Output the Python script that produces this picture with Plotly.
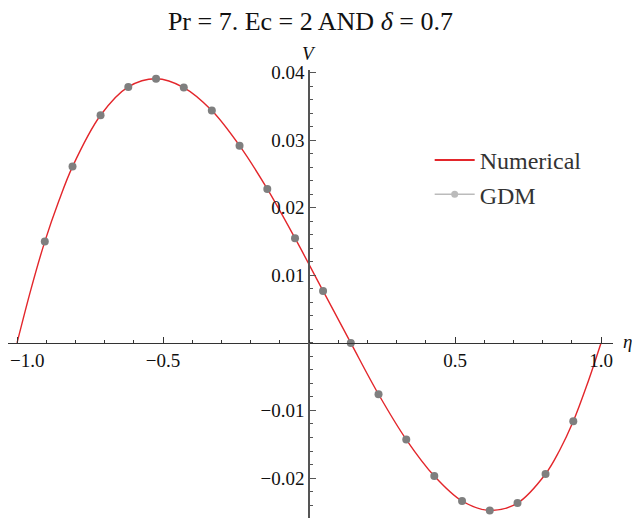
import plotly.graph_objects as go

# ---- data ----
eta_gdm = [-0.905, -0.810, -0.714, -0.619, -0.524, -0.429, -0.333, -0.238, -0.143, -0.048,
           0.048, 0.143, 0.238, 0.333, 0.429, 0.524, 0.619, 0.714, 0.810, 0.905]
v_gdm = [0.0150, 0.0261, 0.0337, 0.0379, 0.0391, 0.0378, 0.0344, 0.0292, 0.0228, 0.0155,
         0.0077, 0.0000, -0.0076, -0.0143, -0.0197, -0.0234, -0.0248, -0.0237, -0.0194, -0.0116]

eta_num = [-1.0, -0.952, -0.905, -0.857, -0.810, -0.714, -0.619, -0.524, -0.429, -0.333, -0.238,
           -0.143, -0.048, 0.048, 0.143, 0.238, 0.333, 0.429, 0.524, 0.619, 0.714, 0.810,
           0.857, 0.905, 0.952, 1.0]
v_num = [0.0, 0.0080, 0.0150, 0.0210, 0.0261, 0.0337, 0.0379, 0.0391, 0.0378, 0.0344, 0.0292,
         0.0228, 0.0155, 0.0077, 0.0000, -0.0076, -0.0143, -0.0197, -0.0234, -0.0248, -0.0237,
         -0.0194, -0.0160, -0.0116, -0.0062, 0.0]

x_ticks = [-1.0, -0.5, 0.5, 1.0]
x_ticktext = ["", "\u22120.5", "0.5", "1.0"]
x_edge_label = "\u22121.0"
y_ticks = [-0.02, -0.01, 0.01, 0.02, 0.03, 0.04]
y_ticktext = ["\u22120.02", "\u22120.01", "0.01", "0.02", "0.03", "0.04"]

title_text = "Pr = 7. Ec = 2 AND <i>\u03b4</i> = 0.7"

# ---- figure ----
xr = [-1.031, 1.041]
yr = [-0.0271, 0.0404]
FONT = "Liberation Serif"
AX = "#555555"

fig = go.Figure()
fig.add_trace(go.Scatter(x=eta_num, y=v_num, mode="lines", line=dict(color="#E3262B", width=1.4, shape="spline"),
                         showlegend=False, hoverinfo="skip"))
fig.add_trace(go.Scatter(x=eta_gdm, y=v_gdm, mode="markers", marker=dict(color="#7F7F7F", size=8),
                         showlegend=False))
# legend entries
fig.add_trace(go.Scatter(x=[None], y=[None], mode="lines", line=dict(color="#E3262B", width=2), name="Numerical"))
fig.add_trace(go.Scatter(x=[None], y=[None], mode="lines+markers", line=dict(color="#BBBBBB", width=1.5),
                         marker=dict(color="#BBBBBB", size=7), name="GDM"))

fig.update_layout(
    width=640, height=518,
    margin=dict(l=0, r=35, t=62, b=0),
    paper_bgcolor="white", plot_bgcolor="white",
    font=dict(family=FONT, color="#111111"),
    title=dict(text=title_text, x=0.4725, xanchor="center", y=0.976, yanchor="middle",
               font=dict(family=FONT, size=26, color="#111111")),
    showlegend=True,
    legend=dict(x=0.697, y=0.851, xanchor="left", yanchor="top", bgcolor="rgba(0,0,0,0)",
                font=dict(family=FONT, size=24, color="#333333"), itemwidth=40, tracegroupgap=0),
    xaxis=dict(range=xr, showgrid=False, zeroline=False, showline=True, linecolor="#333333", linewidth=1,
               anchor="free", position=(0 - yr[0]) / (yr[1] - yr[0]), automargin=False,
               ticklabeloverflow="allow",
               tickmode="array", tickvals=x_ticks, ticktext=x_ticktext,
               ticks="inside", ticklen=6, tickcolor="#333333", tickwidth=1,
               tickfont=dict(family=FONT, size=19, color="#111111"),
               minor=dict(dtick=0.1, tick0=0, ticks="inside", ticklen=3, tickcolor="#333333", showgrid=False)),
    yaxis=dict(range=yr, showgrid=False, zeroline=False, showline=True, linecolor=AX, linewidth=1.5,
               anchor="free", position=(0 - xr[0]) / (xr[1] - xr[0]), automargin=False,
               ticklabeloverflow="allow",
               tickmode="array", tickvals=y_ticks, ticktext=y_ticktext,
               ticks="inside", ticklen=6, tickcolor=AX, tickwidth=1,
               tickfont=dict(family=FONT, size=19, color="#111111"),
               minor=dict(dtick=0.002, tick0=0, ticks="inside", ticklen=3, tickcolor=AX, showgrid=False)),
    annotations=[
        dict(text="<i>V</i>", x=0, xref="x", y=1.037, yref="paper", showarrow=False,
             xanchor="center", yanchor="middle", font=dict(family=FONT, size=19, color="#111111")),
        dict(text="<i>\u03b7</i>", x=1.024, xref="paper", y=0.0002, yref="y", showarrow=False,
             xanchor="center", yanchor="middle", font=dict(family=FONT, size=19, color="#111111")),
        dict(text=x_edge_label, x=0, xref="paper", y=0, yref="y", showarrow=False,
             xanchor="left", yanchor="middle", yshift=-18, font=dict(family=FONT, size=19, color="#111111")),
    ],
)

fig.write_html("out.html")
